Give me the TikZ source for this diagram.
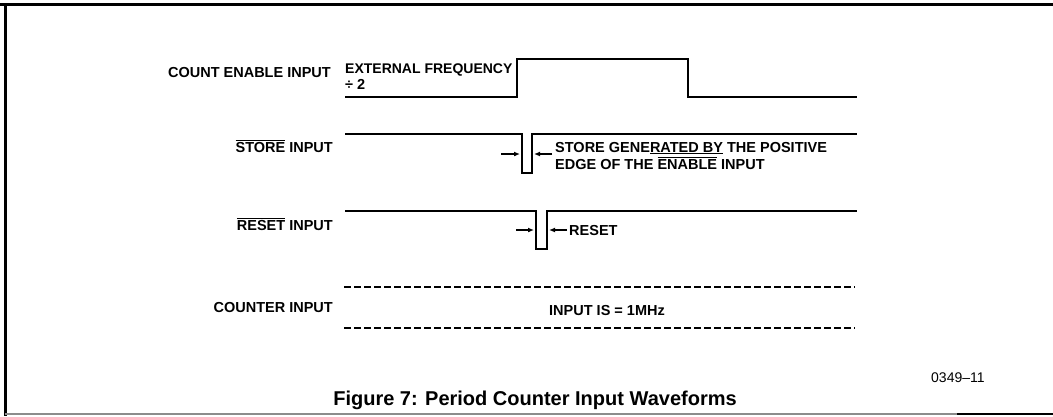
\documentclass[tikz,border=0pt]{standalone}
\usepackage{fontspec}
\setmainfont{Liberation Sans}
\usetikzlibrary{arrows.meta}

\begin{document}
\begin{tikzpicture}[x=1pt,y=-1pt,
    every node/.style={inner sep=0pt, font=\fontsize{14.5}{17}\selectfont\bfseries},
    wave/.style={line width=2.4pt, line join=miter},
    marker/.style={-{Latex[length=6pt,width=5pt]}, line width=1.2pt}]
    \useasboundingbox (0,0) rectangle (1053,416);
    % frame
    \draw[line width=3pt] (0,4) -- (1053,4);
    \draw[line width=3pt] (5,4) -- (5,416);
    \draw[line width=1.2pt, black!45] (5,414) -- (957,414);
    \draw[line width=2.5pt] (957,414) -- (1053,414);
    % signal names
    \node[anchor=base east] (ce) at (331,77) {COUNT ENABLE INPUT};
    \node[anchor=base east] (st) at (333,152) {$\overline{\mbox{STORE}}$ INPUT};
    \node[anchor=base east] (rs) at (333,230) {$\overline{\mbox{RESET}}$ INPUT};
    \node[anchor=base east] (ct) at (333,312) {COUNTER INPUT};
    % waveforms
    \draw[wave] (345,97) -- (517,97) -- (517,59) -- (688,59) -- (688,97) -- (857,97);
    \draw[wave] (345,134) -- (522,134) -- (522,173) -- (532,173) -- (532,134) -- (857,134);
    \draw[wave] (345,211) -- (536,211) -- (536,249) -- (547,249) -- (547,211) -- (857,211);
    \draw[wave, dash pattern=on 7pt off 3pt] (344,287) -- (855,287);
    \draw[wave, dash pattern=on 7pt off 3pt] (344,328) -- (855,328);
    % notes
    \node[anchor=base west, font=\fontsize{14}{16}\selectfont\bfseries] (ext) at (345,73) {EXTERNAL FREQUENCY};
    \node[anchor=base west] (div) at (345,89) {÷ 2};
    \node[anchor=base west] (sn1) at (555,152) {STORE GENE\underline{RATED BY} THE POSITIVE};
    \node[anchor=base west] (sn2) at (555,169) {EDGE OF THE $\overline{\mbox{ENABLE}}$ INPUT};
    \node[anchor=base west] (rn) at (569,235) {RESET};
    \node[anchor=base west] (fq) at (549,315) {INPUT IS = 1MHz};
    % pulse width markers
    \coordinate (stA) at (501,154);
    \coordinate (stL) at (520,154);
    \coordinate (stR) at (534,154);
    \coordinate (stB) at (552,154);
    \coordinate (rsA) at (516,230);
    \coordinate (rsL) at (534,230);
    \coordinate (rsR) at (549,230);
    \coordinate (rsB) at (567,230);
    \draw[marker] (stA) -- (stL);
    \draw[marker] (stB) -- (stR);
    \draw[marker] (rsA) -- (rsL);
    \draw[marker] (rsB) -- (rsR);
    % caption
    \node[anchor=base, font=\fontsize{20}{22}\selectfont\bfseries] (cap) at (535,405)
        {Figure 7: Period Counter Input Waveforms};
    \node[anchor=base west, font=\fontsize{14}{16}\selectfont] (num) at (931,382) {0349--11};
\end{tikzpicture}
\end{document}
